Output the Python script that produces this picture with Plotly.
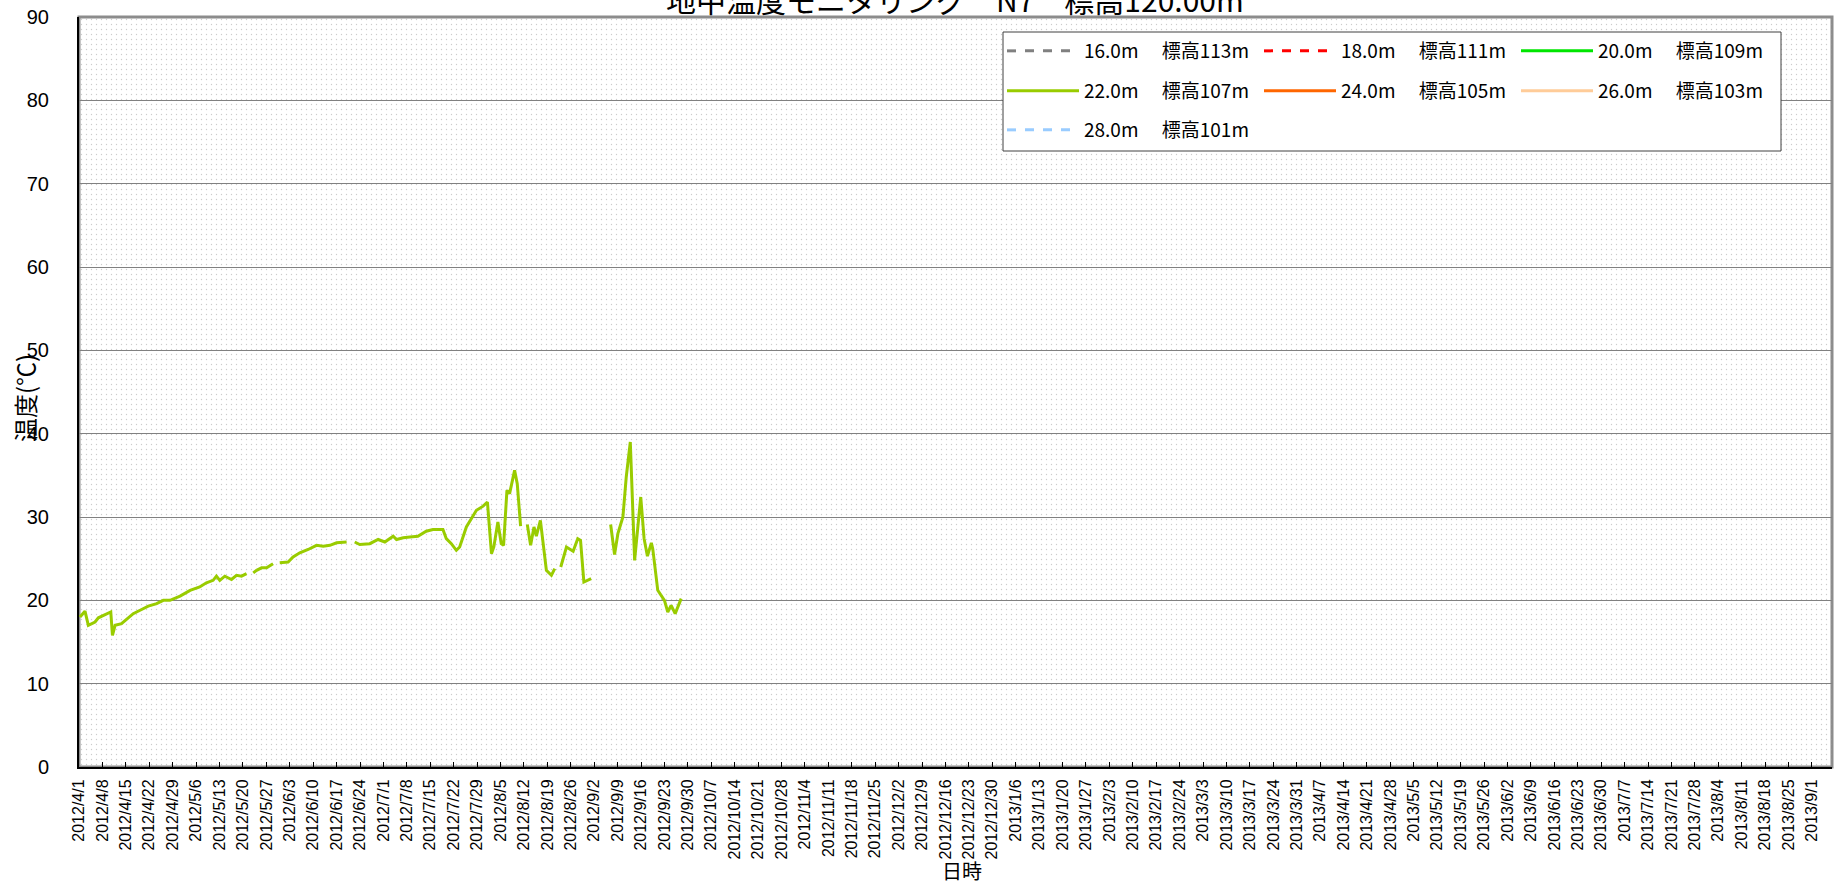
import plotly.graph_objects as go
import pandas as pd

# ---------------- data ----------------
series_names = [
    "16.0m　 標高113m", "18.0m　 標高111m", "20.0m　 標高109m",
    "22.0m　 標高107m", "24.0m　 標高105m", "26.0m　 標高103m",
    "28.0m　 標高101m",
]
series_colors = ["#808080", "#FF0000", "#00E600", "#99CC00", "#FF6600", "#FFCC99", "#99CCFF"]
series_dash = ["dash", "dash", "solid", "solid", "solid", "solid", "dash"]

# only the 22.0m sensor has readings in this period
dates_22 = [
    "2012-04-01 07:00", "2012-04-02 19:00", "2012-04-03 19:00", "2012-04-05 19:00",
    "2012-04-06 19:00", "2012-04-08 07:00", "2012-04-10 00:00", "2012-04-10 12:00",
    "2012-04-11 00:00", "2012-04-11 19:00", "2012-04-13 17:00", "2012-04-15 05:00",
    "2012-04-17 05:00", "2012-04-19 17:00", "2012-04-21 17:00", "2012-04-24 05:00",
    "2012-04-26 05:00", "2012-04-28 05:00", "2012-05-01 05:00", "2012-05-04 05:00",
    "2012-05-07 02:00", "2012-05-09 02:00", "2012-05-11 02:00", "2012-05-12 02:00",
    "2012-05-13 02:00", "2012-05-14 14:00", "2012-05-16 14:00", "2012-05-18 02:00",
    "2012-05-19 14:00", "2012-05-21 02:00", "2012-05-22 02:00", "2012-05-23 02:00",
    "2012-05-24 02:00", "2012-05-25 14:00", "2012-05-27 02:00", "2012-05-29 00:00",
    "2012-05-30 00:00", "2012-05-31 00:00", "2012-06-02 12:00", "2012-06-04 00:00",
    "2012-06-06 00:00", "2012-06-08 12:00", "2012-06-11 00:00", "2012-06-13 00:00",
    "2012-06-15 00:00", "2012-06-17 00:00", "2012-06-20 00:00", "2012-06-21 00:00",
    "2012-06-22 10:00", "2012-06-23 22:00", "2012-06-26 22:00", "2012-06-29 10:00",
    "2012-07-01 10:00", "2012-07-03 22:00", "2012-07-04 22:00", "2012-07-06 22:00",
    "2012-07-08 22:00", "2012-07-11 07:00", "2012-07-13 19:00", "2012-07-15 19:00",
    "2012-07-18 19:00", "2012-07-19 19:00", "2012-07-21 07:00", "2012-07-22 19:00",
    "2012-07-23 19:00", "2012-07-25 19:00", "2012-07-28 19:00", "2012-07-30 19:00",
    "2012-08-01 02:00", "2012-08-02 07:00", "2012-08-03 00:00", "2012-08-04 05:00",
    "2012-08-05 05:00", "2012-08-05 22:00", "2012-08-06 22:00", "2012-08-07 17:00",
    "2012-08-09 05:00", "2012-08-10 00:00", "2012-08-11 00:00", "2012-08-12 00:00",
    "2012-08-13 00:00", "2012-08-14 00:00", "2012-08-15 00:00", "2012-08-15 17:00",
    "2012-08-16 22:00", "2012-08-18 17:00", "2012-08-20 05:00", "2012-08-21 05:00",
    "2012-08-22 00:00", "2012-08-23 00:00", "2012-08-24 17:00", "2012-08-26 17:00",
    "2012-08-28 02:00", "2012-08-28 22:00", "2012-08-29 22:00", "2012-09-01 02:00",
    "2012-09-04 00:00", "2012-09-06 22:00", "2012-09-08 02:00", "2012-09-09 02:00",
    "2012-09-10 14:00", "2012-09-11 14:00", "2012-09-12 19:00", "2012-09-14 02:00",
    "2012-09-15 22:00", "2012-09-16 22:00", "2012-09-17 22:00", "2012-09-19 02:00",
    "2012-09-19 12:00", "2012-09-21 00:00", "2012-09-23 00:00", "2012-09-24 00:00",
    "2012-09-25 00:00", "2012-09-26 05:00", "2012-09-28 00:00",
]
temps_22 = [
    18.0, 18.7, 17.0, 17.4,
    17.9, 18.2, 18.5, 18.6,
    15.8, 17.0, 17.2, 17.7,
    18.4, 18.9, 19.3, 19.6,
    20.0, 20.0, 20.5, 21.2,
    21.6, 22.1, 22.4, 22.9,
    22.4, 22.9, 22.5, 23.0,
    22.9, 23.2, None, 23.3,
    23.6, 23.9, 23.9, 24.4,
    None, 24.5, 24.6, 25.2,
    25.7, 26.1, 26.6, 26.5,
    26.6, 26.9, 27.0, None,
    27.0, 26.7, 26.8, 27.3,
    27.0, 27.7, 27.3, 27.5,
    27.6, 27.7, 28.3, 28.5,
    28.5, 27.4, 26.8, 26.0,
    26.4, 28.8, 30.8, 31.3,
    31.8, 25.6, 26.4, 29.4,
    26.8, 26.6, 33.2, 32.8,
    35.6, 34.0, 28.9, None,
    29.1, 26.6, 28.8, 27.7,
    29.6, 23.6, 23.0, 23.8,
    None, 24.0, 26.4, 25.9,
    27.4, 27.2, 22.2, 22.6,
    None, 29.1, 25.5, 28.0,
    30.0, 34.8, 39.0, 24.8,
    32.4, 27.4, 25.3, 26.9,
    26.2, 21.2, 20.0, 18.6,
    19.4, 18.4, 20.2,
]
series_dates = [[], [], [], dates_22, [], [], []]
series_values = [[], [], [], temps_22, [], [], []]

x_range = ["2012-04-01", "2013-09-07"]
y_range = [0, 90]
x_tick_start = "2012-04-01"
x_tick_step_days = 7
y_tick_step = 10

title_text = "地中温度モニタリング　N7　標高120.00m"
x_title = "日時"
y_title = "温度(℃)"

# ---------------- figure ----------------
W, H = 1839, 890
M_L, M_R, M_T, M_B = 79, 7, 17, 123
JP = "Noto Sans CJK JP"
NUM = "Liberation Sans"

fig = go.Figure()

# dotted plot-area fill (Excel pattern), spanning the axis range
t0, t1 = pd.Timestamp(x_range[0]), pd.Timestamp(x_range[1])
fig.add_trace(go.Bar(
    x=[t0 + (t1 - t0) / 2], y=[y_range[1] - y_range[0]], base=[y_range[0]],
    width=[(t1 - t0).total_seconds() * 1000],
    marker=dict(color="rgba(0,0,0,0)", line=dict(width=0),
                pattern=dict(shape=".", size=5, solidity=0.06,
                             fgcolor="#9a9a9a", bgcolor="rgba(0,0,0,0)")),
    showlegend=False, hoverinfo="skip",
))

legend_ids = ["legend", "legend", "legend", "legend2", "legend2", "legend2", "legend3"]
for name, xs, ys, col, dash, lg in zip(series_names, series_dates, series_values,
                                       series_colors, series_dash, legend_ids):
    fig.add_trace(go.Scatter(
        x=xs if xs else [None], y=ys if ys else [None],
        mode="lines", name=name,
        line=dict(color=col, width=3, dash=dash),
        connectgaps=False, legend=lg,
    ))

pw = W - M_L - M_R
ph = H - M_T - M_B
def px_x(px):
    return (px - M_L) / pw
def px_y(py):
    return (H - M_B - py) / ph

leg_common = dict(
    orientation="h", xanchor="left", yanchor="middle",
    bgcolor="rgba(0,0,0,0)", borderwidth=0,
    font=dict(family=JP, size=19, color="black"),
    entrywidth=170, entrywidthmode="pixels", itemwidth=72,
    tracegroupgap=0,
)
legend_x = px_x(1002)
fig.update_layout(
    width=W, height=H,
    margin=dict(l=M_L, r=M_R, t=M_T, b=M_B, autoexpand=False),
    paper_bgcolor="white", plot_bgcolor="white",
    barmode="overlay", bargap=0,
    showlegend=True,
    legend=dict(x=legend_x, y=px_y(51), **leg_common),
    legend2=dict(x=legend_x, y=px_y(91), **leg_common),
    legend3=dict(x=legend_x, y=px_y(130), **leg_common),
    xaxis=dict(
        type="date", range=x_range, automargin=False,
        tickmode="linear", tick0=x_tick_start, dtick=x_tick_step_days * 86400000,
        tickformat="%Y/%-m/%-d", tickangle=-90,
        tickfont=dict(family=NUM, size=16, color="black"),
        ticks="inside", ticklen=5, tickcolor="black",
        showgrid=False, zeroline=False,
        showline=True, linecolor="black", linewidth=2,
        ticklabelstandoff=4,
    ),
    yaxis=dict(
        range=y_range, tickmode="linear", tick0=0, dtick=y_tick_step, automargin=False,
        tickfont=dict(family=NUM, size=20, color="black"),
        ticks="", showgrid=True, gridcolor="#808080", gridwidth=1,
        zeroline=False, showline=True, linecolor="black", linewidth=2,
        ticklabelstandoff=24,
    ),
    shapes=[
        dict(type="rect", xref="paper", yref="paper", x0=0, x1=1, y0=0, y1=1,
             line=dict(color="#8c8c8c", width=3), layer="below"),
        dict(type="rect", xref="paper", yref="paper",
             x0=px_x(1003), x1=px_x(1781), y0=px_y(32), y1=px_y(151),
             line=dict(color="#404040", width=1), fillcolor="white", layer="above"),
    ],
    annotations=[
        dict(text=title_text, xref="paper", yref="paper", x=px_x(955), y=px_y(-1),
             xanchor="center", yanchor="middle", showarrow=False,
             font=dict(family=JP, size=30, color="black")),
        dict(text=x_title, xref="paper", yref="paper", x=px_x(962), y=px_y(870),
             xanchor="center", yanchor="middle", showarrow=False,
             font=dict(family=JP, size=20, color="black")),
        dict(text=y_title, xref="paper", yref="paper", x=px_x(24), y=px_y(398),
             xanchor="center", yanchor="middle", showarrow=False, textangle=-90,
             font=dict(family=JP, size=24, color="black")),
    ],
)

fig.write_html(
    "out.html",
    config={"displayModeBar": False},
    post_script="document.body.style.margin='0';document.body.style.overflow='hidden';",
)
